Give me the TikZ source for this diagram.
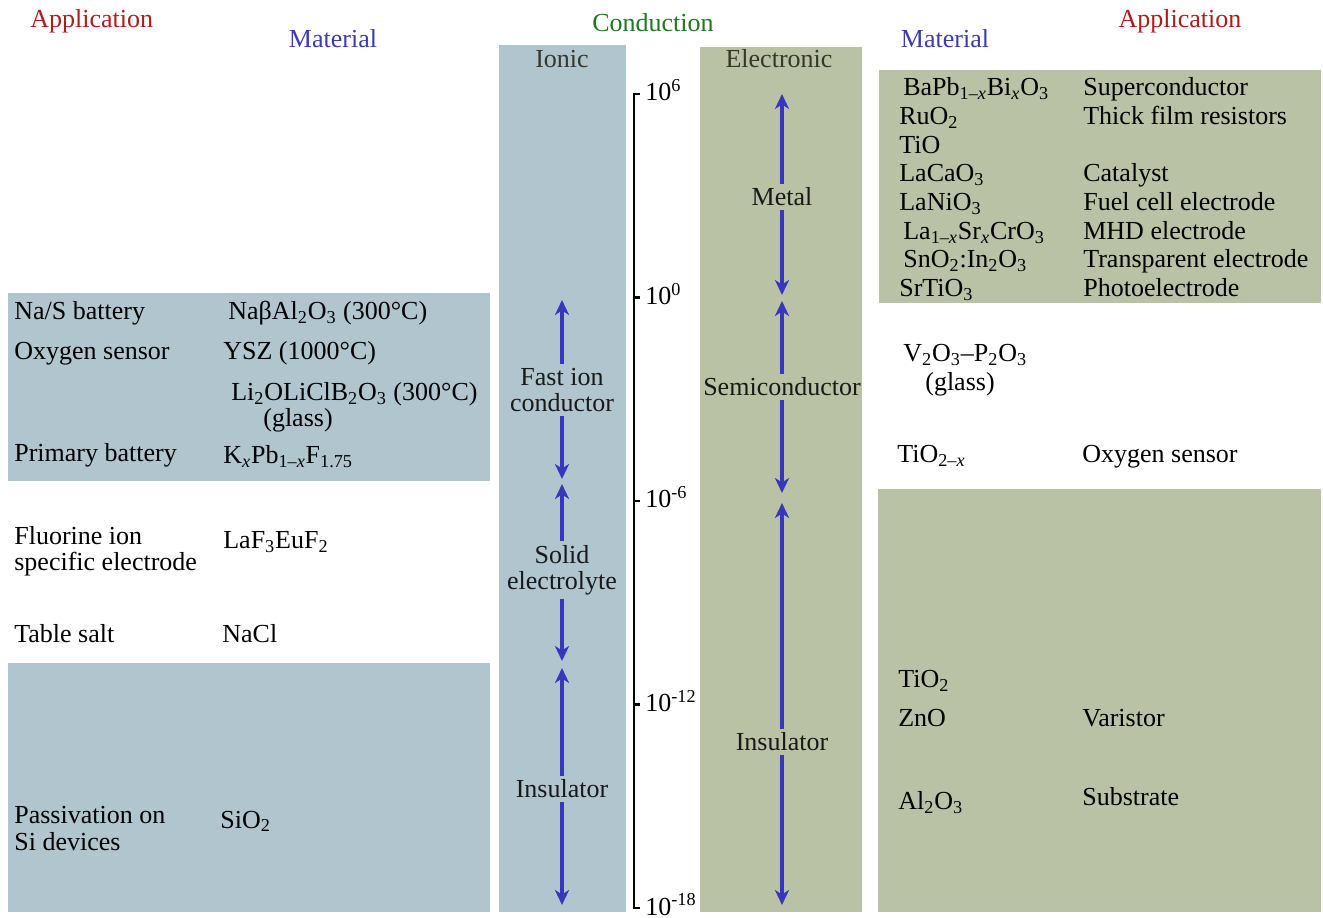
\documentclass[tikz,border=0pt]{standalone}
\usepackage{fontspec}
\setmainfont{Liberation Serif}
\usetikzlibrary{arrows.meta}
\definecolor{ionbox}{RGB}{177,197,207}
\definecolor{elbox}{RGB}{185,194,164}
\definecolor{apptitle}{RGB}{170,30,30}
\definecolor{mattitle}{RGB}{60,60,175}
\definecolor{contitle}{RGB}{30,120,30}
\definecolor{rangeblue}{RGB}{55,55,190}
\definecolor{coltitle}{RGB}{55,55,40}
\newcommand{\chsub}[1]{\textsubscript{#1}}
\newcommand{\vx}{\textit{x}}
\begin{document}
\begin{tikzpicture}[x = 0.02cm, y = -0.02cm, font = \fontsize{14.8}{14.8}\selectfont,
	txt/.style = {anchor = base west, inner sep = 0pt},
	head/.style = {anchor = base, inner sep = 0pt},
	lbl/.style = {align = center, inner sep = 2pt, text = black!90},
	rangearrow/.style = {rangeblue, line width = 1.8pt, -{Stealth[length = 8.5pt, width = 8pt, inset = 2.5pt]}}]
\useasboundingbox (0,0) rectangle (1323,918);
% panels
\fill[ionbox] (8,293) rectangle (490,481);
\fill[ionbox] (8,663) rectangle (490,912);
\fill[ionbox] (499,45) rectangle (626,912);
\fill[elbox] (700,47) rectangle (862,912);
\fill[elbox] (879,70) rectangle (1321,303);
\fill[elbox] (878,489) rectangle (1321,912);
% headings
\node[txt, text = apptitle] (appL) at (30,28) {Application};
\node[head, text = mattitle] (matL) at (333,48) {Material};
\node[head, text = contitle] (cond) at (653,32) {Conduction};
\node[head, text = coltitle] (ionic) at (562,68) {Ionic};
\node[head, text = coltitle] (elec) at (779,68) {Electronic};
\node[head, text = mattitle] (matR) at (945,48) {Material};
\node[head, text = apptitle] (appR) at (1180,28) {Application};
% conductivity axis
\draw[line width = 1.6pt] (640,94) -- (634,94) -- (634,908) -- (640,908);
\foreach \e [count = \k from 0] in {6,0,-6,-12,-18}
{
	\draw[line width = 1.6pt] (634,{94+203.5*\k}) -- (640,{94+203.5*\k});
	\node[txt] (exp\k) at (645,{101+203.5*\k}) {10\textsuperscript{\e}};
}
% ionic ranges
\node[lbl] (fast) at (562,390) {Fast ion\\conductor};
\coordinate (fastT) at (562,300);
\coordinate (fastB) at (562,479);
\draw[rangearrow] (fast) -- (fastT);
\draw[rangearrow] (fast) -- (fastB);
\node[lbl] (solid) at (562,570) {Solid\\electrolyte};
\coordinate (solidT) at (562,484);
\coordinate (solidB) at (562,661);
\draw[rangearrow] (solid) -- (solidT);
\draw[rangearrow] (solid) -- (solidB);
\node[lbl] (insI) at (562,789) {Insulator};
\coordinate (insIT) at (562,668);
\coordinate (insIB) at (562,905);
\draw[rangearrow] (insI) -- (insIT);
\draw[rangearrow] (insI) -- (insIB);
% electronic ranges
\node[lbl] (metal) at (782,197) {Metal};
\coordinate (metalT) at (782,94);
\coordinate (metalB) at (782,295);
\draw[rangearrow] (metal) -- (metalT);
\draw[rangearrow] (metal) -- (metalB);
\node[lbl] (semi) at (782,387) {Semiconductor};
\coordinate (semiT) at (782,301);
\coordinate (semiB) at (782,493);
\draw[rangearrow] (semi) -- (semiT);
\draw[rangearrow] (semi) -- (semiB);
\node[lbl] (insE) at (782,742) {Insulator};
\coordinate (insET) at (782,503);
\coordinate (insEB) at (782,905);
\draw[rangearrow] (insE) -- (insET);
\draw[rangearrow] (insE) -- (insEB);
% left: applications and materials
\node[txt] (aNaS) at (14,320) {Na/S battery};
\node[txt] (mNaS) at (228,320) {NaβAl\chsub{2}O\chsub{3} (300°C)};
\node[txt] (aOx) at (14,360) {Oxygen sensor};
\node[txt] (mOx) at (223,360) {YSZ (1000°C)};
\node[txt] (mLi) at (231,401) {Li\chsub{2}OLiClB\chsub{2}O\chsub{3} (300°C)};
\node[txt] (mLiG) at (263,427) {(glass)};
\node[txt] (aPrim) at (14,462) {Primary battery};
\node[txt] (mPrim) at (223,464) {K\chsub{\vx}Pb\chsub{1\textendash\vx}F\chsub{1.75}};
\node[txt, align = left] (aFl) at (14,571) {Fluorine ion\\specific electrode};
\node[txt] (mFl) at (223,549) {LaF\chsub{3}EuF\chsub{2}};
\node[txt] (aSalt) at (14,643) {Table salt};
\node[txt] (mSalt) at (222,643) {NaCl};
\node[txt, align = left] (aPass) at (14,850) {Passivation on\\Si devices};
\node[txt] (mPass) at (220,828) {SiO\chsub{2}};
% right: materials and applications
\node[txt] (mBa) at (903,96) {BaPb\chsub{1\textendash\vx}Bi\chsub{\vx}O\chsub{3}};
\node[txt] (aBa) at (1083,96) {Superconductor};
\node[txt] (mRu) at (899,125) {RuO\chsub{2}};
\node[txt] (aRu) at (1083,125) {Thick film resistors};
\node[txt] (mTi) at (899,154) {TiO};
\node[txt] (mLaCa) at (899,182) {LaCaO\chsub{3}};
\node[txt] (aLaCa) at (1083,182) {Catalyst};
\node[txt] (mLaNi) at (899,211) {LaNiO\chsub{3}};
\node[txt] (aLaNi) at (1083,211) {Fuel cell electrode};
\node[txt] (mLaSr) at (903,240) {La\chsub{1\textendash\vx}Sr\chsub{\vx}CrO\chsub{3}};
\node[txt] (aLaSr) at (1083,240) {MHD electrode};
\node[txt] (mSn) at (903,268) {SnO\chsub{2}:In\chsub{2}O\chsub{3}};
\node[txt] (aSn) at (1083,268) {Transparent electrode};
\node[txt] (mSr) at (899,297) {SrTiO\chsub{3}};
\node[txt] (aSr) at (1083,297) {Photoelectrode};
\node[txt] (mV) at (903,362) {V\chsub{2}O\chsub{3}\textendash P\chsub{2}O\chsub{3}};
\node[txt] (mVG) at (925,391) {(glass)};
\node[txt] (mTix) at (897,463) {TiO\chsub{2\textendash\vx}};
\node[txt] (aTix) at (1082,463) {Oxygen sensor};
\node[txt] (mTi2) at (898,688) {TiO\chsub{2}};
\node[txt] (mZn) at (898,727) {ZnO};
\node[txt] (aZn) at (1082,727) {Varistor};
\node[txt] (mAl) at (898,810) {Al\chsub{2}O\chsub{3}};
\node[txt] (aAl) at (1082,806) {Substrate};
\end{tikzpicture}
\end{document}
